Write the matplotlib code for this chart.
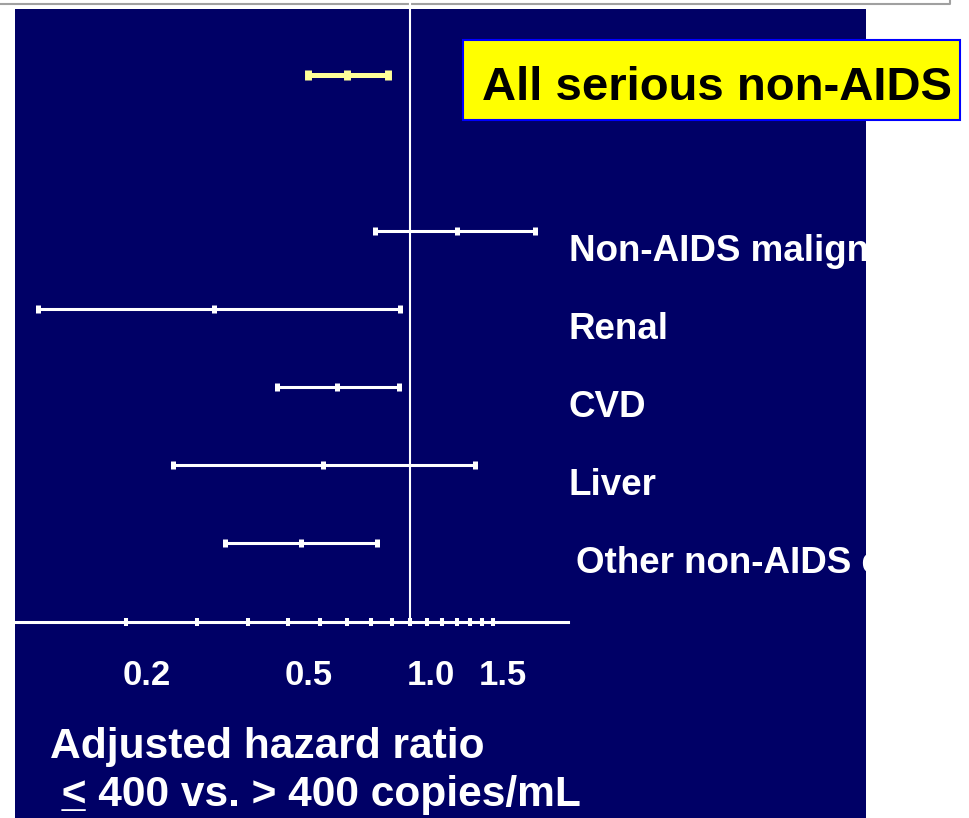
import matplotlib
matplotlib.use("Agg")
import matplotlib.pyplot as plt
from matplotlib.patches import Rectangle
from matplotlib.lines import Line2D
from matplotlib.transforms import ScaledTranslation, blended_transform_factory

# hazard ratios (log axis)
outcomes = ["All serious non-AIDS", "Non-AIDS malignancy", "Renal", "CVD",
            "Liver", "Other non-AIDS events"]
rows = [6, 4, 3, 2, 1, 0]
hr = [0.70, 1.30, 0.33, 0.66, 0.61, 0.54]
ci_lo = [0.56, 0.82, 0.122, 0.47, 0.262, 0.35]
ci_hi = [0.88, 2.03, 0.945, 0.94, 1.44, 0.83]
tick_vals = [0.2, 0.3, 0.4, 0.5, 0.6, 0.7, 0.8, 0.9, 1.0,
             1.1, 1.2, 1.3, 1.4, 1.5, 1.6]
tick_labels = ["0.2", "0.5", "1.0", "1.5"]
xlabel_lines = ["Adjusted hazard ratio", " < 400 vs. > 400 copies/mL"]

NAVY = "#000066"
FONT = "Liberation Sans"
W, H, DPI = 970, 818, 100

fig = plt.figure(figsize=(W / DPI, H / DPI), dpi=DPI)
fig.patch.set_facecolor("white")

def px(x, y):
    # figure pixel (from top-left) -> figure fraction
    return x / W, 1 - y / H

# navy slide panel and the grey frame line above it
panel = Rectangle(px(15, 818), 851 / W, 809 / H, transform=fig.transFigure,
                  facecolor=NAVY, edgecolor="none", zorder=-10)
fig.add_artist(panel)
fig.add_artist(Line2D([0, 950 / W, 950 / W], [1 - 4 / H, 1 - 4 / H, 1],
                      transform=fig.transFigure, color="#a0a0a0", lw=1.5,
                      zorder=-5))

ax = fig.add_axes([15 / W, 196 / H, 553 / W, 622 / H])
ax.patch.set_visible(False)
ax.set_xscale("log")
ax.set_xlim(0.107, 2.44)
ax.set_ylim(-1.01, 6.96)

for s in ["left", "top", "right"]:
    ax.spines[s].set_visible(False)
ax.spines["bottom"].set_color("white")
ax.spines["bottom"].set_linewidth(2.2)
ax.set_yticks([])
ax.xaxis.set_minor_locator(matplotlib.ticker.NullLocator())
ax.set_xticks(tick_vals)
ax.tick_params(axis="x", direction="inout", length=6, width=2.9,
               color="white", labelbottom=False)

ax.axvline(1.0, color="white", lw=1.5, zorder=1)

for i, (y, m, lo, hi) in enumerate(zip(rows, hr, ci_lo, ci_hi)):
    if i == 0:
        c, elw, cs, ct, ms, mew = "#ffff99", 3.6, 3.6, 5.0, 7.2, 5.0
    else:
        c, elw, cs, ct, ms, mew = "white", 2.2, 3.2, 3.6, 5.8, 3.6
    ax.errorbar([m], [y], xerr=[[m - lo], [hi - m]], fmt="|", color=c,
                ecolor=c, elinewidth=elw, capsize=cs, capthick=ct,
                markersize=ms, markeredgewidth=mew, zorder=3)

# category labels to the right of the axis, clipped at the slide edge
lab_tr = blended_transform_factory(ax.transAxes, ax.transData)
for name, y in zip(outcomes[1:], rows[1:]):
    dx = 8 if name.startswith("Other") else 1
    t = ax.text(1.0, y, name, transform=lab_tr + ScaledTranslation(
        dx / DPI, -30 / DPI, fig.dpi_scale_trans), color="white",
        fontsize=26.5, fontweight="bold", family=FONT, ha="left",
        va="baseline")
    t.set_clip_path(panel)

# highlighted overall outcome
fig.add_artist(Rectangle(px(463, 120), 497 / W, 80 / H,
                         transform=fig.transFigure, facecolor="#ffff00",
                         edgecolor="#0000ff", lw=1.5, zorder=5))
fig.text(*px(482, 100), outcomes[0], fontsize=34, fontweight="bold",
         family=FONT, color="black", ha="left", va="baseline", zorder=6)

# tick labels (set slightly right of their ticks, as on the slide)
tk_tr = blended_transform_factory(ax.transData, ax.transAxes)
for lab in tick_labels:
    ax.text(float(lab), 0, lab, transform=tk_tr + ScaledTranslation(
        -3 / DPI, -63 / DPI, fig.dpi_scale_trans), color="white",
        fontsize=25, fontweight="bold", family=FONT, ha="left",
        va="baseline")

# axis title, with the "<" underlined
fig.text(*px(50, 758), xlabel_lines[0], fontsize=30.6, fontweight="bold",
         family=FONT, color="white", ha="left", va="baseline")
fig.text(*px(50, 806), xlabel_lines[1], fontsize=30.6, fontweight="bold",
         family=FONT, color="white", ha="left", va="baseline")
fig.text(*px(50, 806), " _", fontsize=30.6, fontweight="bold",
         family=FONT, color="white", ha="left", va="baseline")

fig.savefig("out.png", dpi=DPI, facecolor=fig.get_facecolor())
